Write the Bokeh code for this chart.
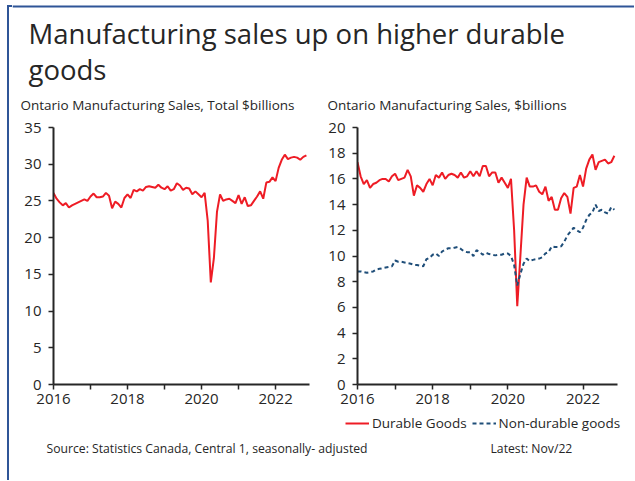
import pandas as pd
from bokeh.plotting import figure
from bokeh.models import (Range1d, FixedTicker, Label, Legend, LegendItem,
                          BoxAnnotation, ColumnDataSource, Div)
from bokeh.layouts import column, row
from bokeh.embed import file_html
from bokeh.resources import INLINE

# ---------------- data (monthly, Jan 2016 - Nov 2022, $ billions) ----------------
dates = pd.date_range("2016-01-01", "2022-11-01", freq="MS")
total = [
    26.1, 25.3, 24.8, 24.4, 24.7, 24.1, 24.4, 24.6, 24.8, 25.0, 25.2, 25.0,
    25.6, 26.0, 25.5, 25.5, 25.6, 26.1, 25.7, 24.0, 24.9, 24.6, 24.1, 25.4,
    25.9, 25.4, 26.5, 26.3, 26.6, 26.4, 26.9, 27.0, 26.9, 26.8, 27.2, 26.8,
    26.6, 27.0, 26.4, 26.6, 27.4, 27.1, 26.5, 26.8, 26.7, 25.9, 26.3, 25.9,
    25.5, 26.1, 22.3, 13.9, 17.2, 23.5, 25.9, 25.0, 25.2, 25.3, 25.0, 24.7,
    25.8, 24.6, 25.5, 24.3, 24.4, 25.0, 25.6, 26.3, 25.3, 27.5, 27.6, 28.2,
    27.7, 29.5, 30.6, 31.3, 30.7, 30.9, 31.0, 30.9, 30.6, 31.0, 31.2,
]
durable = [
    17.3, 16.2, 15.6, 15.9, 15.3, 15.6, 15.7, 15.9, 16.0, 16.0, 15.8, 16.2,
    16.4, 15.9, 16.0, 16.1, 16.7, 16.2, 14.7, 15.5, 15.3, 15.0, 15.6, 16.0,
    15.5, 16.3, 16.1, 16.5, 16.0, 16.3, 16.4, 16.3, 16.1, 16.5, 16.1, 16.2,
    16.6, 16.2, 16.6, 16.2, 17.0, 17.0, 16.2, 16.5, 16.5, 15.7, 16.1, 15.7,
    15.3, 16.0, 12.0, 6.1, 10.0, 14.0, 16.1, 15.4, 15.4, 15.5, 15.0, 14.8,
    15.4, 14.3, 14.6, 13.6, 13.6, 14.5, 14.9, 14.6, 13.3, 15.3, 15.4, 16.3,
    15.4, 16.8, 17.5, 17.9, 16.7, 17.3, 17.4, 17.5, 17.2, 17.3, 17.8,
]
nondurable = [
    8.8, 8.8, 8.75, 8.7, 8.75, 8.8, 8.95, 9.0, 9.05, 9.1, 9.15, 9.2,
    9.65, 9.55, 9.55, 9.5, 9.45, 9.4, 9.3, 9.3, 9.25, 9.2, 9.75, 9.85,
    10.1, 10.2, 10.0, 10.35, 10.5, 10.6, 10.6, 10.65, 10.7, 10.55, 10.35, 10.3,
    10.3, 10.0, 10.45, 10.3, 10.1, 10.25, 10.15, 10.1, 10.05, 10.1, 10.1, 10.2,
    10.2, 10.0, 9.3, 7.7, 8.6, 9.4, 9.8, 9.6, 9.7, 9.75, 9.8, 9.9,
    10.2, 10.3, 10.75, 10.7, 10.7, 10.75, 11.1, 11.6, 11.9, 12.2, 12.0, 11.85,
    12.2, 12.8, 13.2, 13.4, 14.0, 13.5, 13.6, 13.4, 13.3, 13.8, 13.6,
]
year_ticks = [2016, 2017, 2018, 2019, 2020, 2021, 2022]
year_labels = ["2016", "", "2018", "", "2020", "", "2022"]
left_yticks = [0, 5, 10, 15, 20, 25, 30, 35]
right_yticks = [0, 2, 4, 6, 8, 10, 12, 14, 16, 18, 20]

title_lines = ["Manufacturing sales up on higher durable", "goods"]
left_sub = "Ontario Manufacturing Sales, Total $billions"
right_sub = "Ontario Manufacturing Sales, $billions"
series_names = ["Durable Goods", "Non-durable goods"]
source_txt = "Source: Statistics Canada, Central 1, seasonally- adjusted"
latest_txt = "Latest: Nov/22"

# ---------------- style ----------------
FONT = "Open Sans"
TXT = "#262626"
AX = "#262626"
BORDER = "#2F5597"
RED = "#EE1C25"
BLUE = "#1F4E79"
DASH = "4 3"

xdec = [d.year + (d.month - 1) / 12 for d in dates]
src = ColumnDataSource(dict(x=xdec, total=total, durable=durable, nondurable=nondurable))
x_end = 2016 + len(xdec) / 12


def blank(width, height):
    p = figure(width=width, height=height, output_backend="svg", toolbar_location=None,
               x_range=Range1d(0, width), y_range=Range1d(0, height),
               x_axis_type=None, y_axis_type=None, min_border=0)
    p.outline_line_color = None
    p.grid.visible = False
    p.background_fill_color = "white"
    p.border_fill_color = "white"
    return p


def chart(width, height, ml, mr, mt, mb, yend, yticks):
    p = figure(width=width, height=height, output_backend="svg", toolbar_location=None,
               x_range=Range1d(2016, x_end), y_range=Range1d(0, yend),
               min_border_left=ml, min_border_right=mr, min_border_top=mt,
               min_border_bottom=mb)
    p.outline_line_color = None
    p.grid.visible = False
    p.background_fill_color = "white"
    p.border_fill_color = "white"
    for ax in (p.xaxis[0], p.yaxis[0]):
        ax.axis_line_color = AX
        ax.axis_line_width = 2
        ax.major_tick_line_color = AX
        ax.major_tick_line_width = 1.5
        ax.major_tick_in = 0
        ax.major_tick_out = 5
        ax.minor_tick_line_color = None
        ax.major_label_text_font = FONT
        ax.major_label_text_font_size = "15px"
        ax.major_label_text_color = TXT
    p.xaxis.ticker = FixedTicker(ticks=year_ticks)
    p.xaxis.major_label_overrides = {t: l for t, l in zip(year_ticks, year_labels)}
    p.xaxis.major_label_standoff = 4
    p.yaxis.ticker = FixedTicker(ticks=yticks)
    p.yaxis.major_label_standoff = 7
    return p


H_HEAD, H_CHART, H_FOOT = 116, 298, 66
H_ALL = H_HEAD + H_CHART + H_FOOT

# left page border (page x 0..12)
strip = Div(width=12, height=H_ALL, margin=0, text=(
    f'<div style="position:relative;width:12px;height:{H_ALL}px;">'
    f'<div style="position:absolute;left:7px;top:5px;width:2px;height:{H_ALL - 5}px;'
    f'background:{BORDER};"></div>'
    f'<div style="position:absolute;left:7px;top:5px;width:5px;height:2px;'
    f'background:{BORDER};"></div></div>'))

# header (page x 12..634, y 0..116)
header = blank(622, H_HEAD)
header.add_layout(BoxAnnotation(left=0, right=622, bottom=H_HEAD - 7, top=H_HEAD - 5,
                                fill_color=BORDER, fill_alpha=1, line_color=None))
for txt, px, py, fs in [(title_lines[0], 28, 33, "27.5px"),
                        (title_lines[1], 28, 69, "27.5px"),
                        (left_sub, 20, 104, "13.5px"),
                        (right_sub, 327, 104, "13.5px")]:
    header.add_layout(Label(x=px - 12, y=H_HEAD - py, text=txt, text_font=FONT,
                            text_font_size=fs, text_color=TXT,
                            text_baseline="alphabetic"))

# left chart: page x 12..318, y 116..414 ; frame x 53..309, y 127..384
pl = chart(306, H_CHART, 41, 9, 11, 30, 35, left_yticks)
pl.line("x", "total", source=src, line_color=RED, line_width=2)

# right chart: page x 318..634 ; frame x 357..617
pr = chart(316, H_CHART, 39, 17, 11, 30, 20, right_yticks)
pr.line("x", "durable", source=src, line_color=RED, line_width=2)
pr.line("x", "nondurable", source=src, line_color=BLUE, line_width=2, line_dash=DASH)

# footer: page y 414..480 -- legend for the right chart + source notes
footer = blank(622, H_FOOT)
k1 = footer.line("x", "durable", source=src, line_color=RED, line_width=2, visible=False)
k2 = footer.line("x", "nondurable", source=src, line_color=BLUE, line_width=2,
                 line_dash=DASH, visible=False)
legend = Legend(items=[LegendItem(label=series_names[0], renderers=[k1]),
                       LegendItem(label=series_names[1], renderers=[k2])],
                orientation="horizontal", location=(345 - 12, H_FOOT - 18),
                label_text_font=FONT, label_text_font_size="13.5px",
                label_text_color=TXT, glyph_width=24, glyph_height=18,
                label_height=18, label_standoff=3, spacing=5, padding=0, margin=0,
                border_line_color=None, background_fill_alpha=0,
                inactive_fill_alpha=0)
footer.add_layout(legend)
for txt, px in [(source_txt, 46), (latest_txt, 490)]:
    footer.add_layout(Label(x=px - 12, y=H_FOOT - (448 - 414), text=txt, text_font=FONT,
                            text_font_size="12.2px", text_color=TXT,
                            text_baseline="alphabetic"))

layout = row(strip, column(header, row(pl, pr), footer))
open("out.html", "w").write(file_html(layout, INLINE))
